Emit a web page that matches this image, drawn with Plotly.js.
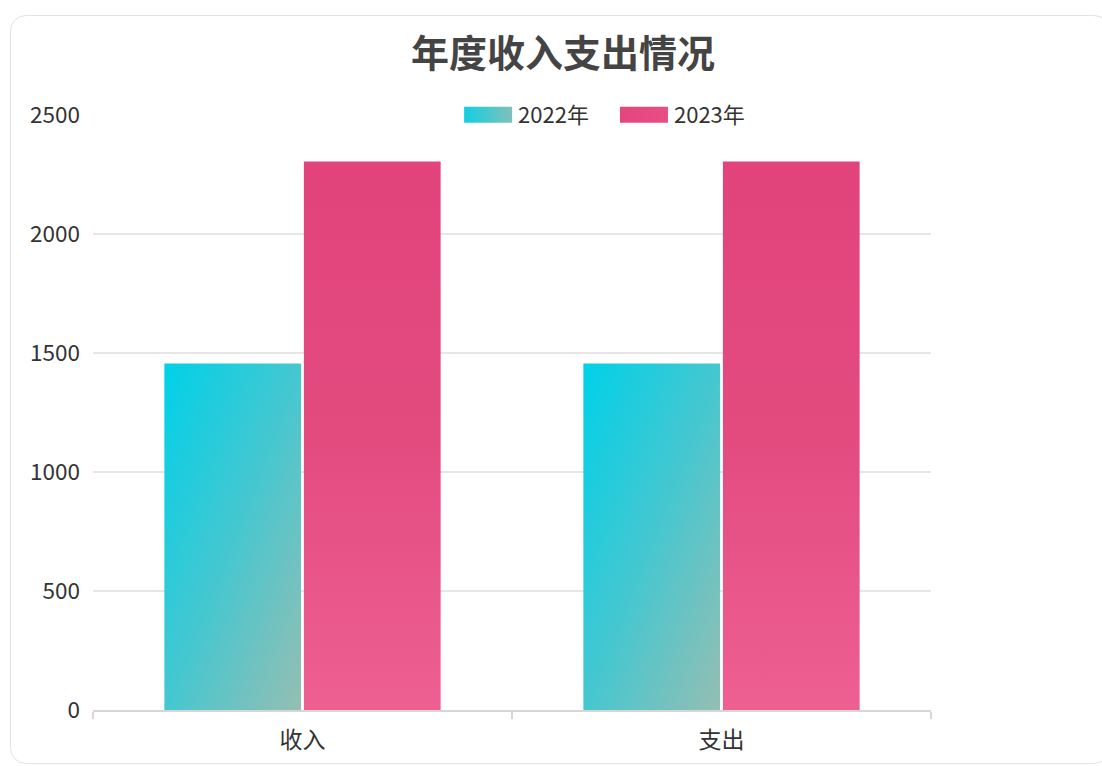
<!DOCTYPE html>
<html>
<head>
<meta charset="utf-8">
<script src="https://cdn.plot.ly/plotly-3.0.1.min.js"></script>
<style>
  html, body { margin: 0; padding: 0; background: #ffffff; width: 1102px; height: 766px; overflow: hidden; }
  #card { position: absolute; left: 10px; top: 15px; width: 1100px; height: 749px; border: 1.5px solid #e2e2e2; border-radius: 16px; box-sizing: border-box; background: #fff; }
  #chart { position: absolute; left: 0; top: 0; width: 1102px; height: 766px; }
</style>
</head>
<body>
<div id="card"></div>
<div id="chart"></div>
<script>
const categories = ['收入', '支出'];
const seriesNames = ['2022年', '2023年'];
const values2022 = [1456, 1456];
const values2023 = [2305, 2305];
const yTickValues = [0, 500, 1000, 1500, 2000, 2500];

const FONT = '"Noto Sans CJK SC", "Noto Sans", sans-serif';

const traces = [
  { type: 'bar', name: seriesNames[0], x: categories, y: values2022, marker: { color: '#3cc7d3' } },
  { type: 'bar', name: seriesNames[1], x: categories, y: values2023, marker: { color: '#e54c82' } }
];

const layout = {
  width: 1102, height: 766,
  paper_bgcolor: 'rgba(0,0,0,0)', plot_bgcolor: 'rgba(0,0,0,0)',
  margin: { l: 93, r: 171, t: 115, b: 56 },
  title: { text: '年度收入支出情况', x: 0.511, xanchor: 'center', y: 0.93, yanchor: 'middle', xref: 'container', yref: 'container',
           font: { family: FONT, size: 38, color: '#444', weight: 700 } },
  barmode: 'group', bargap: 0.334, bargroupgap: 0.02,
  showlegend: true,
  legend: { orientation: 'h', x: 0.598, xanchor: 'center', y: 1.0, yanchor: 'middle', bgcolor: 'rgba(0,0,0,0)',
            font: { family: FONT, size: 22, color: '#333' }, itemwidth: 70, traceorder: 'normal' },
  xaxis: { type: 'category', showline: true, linecolor: '#d6d6d6', linewidth: 1.5, ticks: 'outside', ticklen: 7, tickcolor: '#d6d6d6', tickwidth: 1.5,
           tickson: 'boundaries', showgrid: false, tickfont: { family: FONT, size: 23, color: '#333' }, ticklabelstandoff: 9, fixedrange: true },
  yaxis: { range: [0, 2500], tickvals: yTickValues, showgrid: true, gridcolor: '#e6e6e6', gridwidth: 1.2, zeroline: false, showline: false,
           tickfont: { family: FONT, size: 22.5, color: '#333' }, ticklabelstandoff: 12, fixedrange: true },
  hovermode: false
};

function translateX(el) {
  const t = el.getAttribute && el.getAttribute('transform');
  if (!t) return 0;
  const m = /translate\(\s*([-\d.e]+)/.exec(t);
  return m ? parseFloat(m[1]) : 0;
}

Plotly.newPlot('chart', traces, layout, { displayModeBar: false, staticPlot: true }).then(function (gd) {
  const svg = gd.querySelector('svg.main-svg');
  const ns = 'http://www.w3.org/2000/svg';
  let defs = svg.querySelector('defs');
  if (!defs) { defs = document.createElementNS(ns, 'defs'); svg.insertBefore(defs, svg.firstChild); }
  function addGrad(id, x1, y1, x2, y2, stops) {
    const g = document.createElementNS(ns, 'linearGradient');
    g.setAttribute('id', id);
    g.setAttribute('x1', x1); g.setAttribute('y1', y1); g.setAttribute('x2', x2); g.setAttribute('y2', y2);
    stops.forEach(function (s) {
      const st = document.createElementNS(ns, 'stop');
      st.setAttribute('offset', s[0]); st.setAttribute('stop-color', s[1]);
      g.appendChild(st);
    });
    defs.appendChild(g);
  }
  addGrad('g2022', '0', '0', '1', '1', [['0', '#00d1e8'], ['0.5', '#45c7d0'], ['1', '#95beb2']]);
  addGrad('g2023', '0', '0', '0', '1', [['0', '#e1437a'], ['0.5', '#e34b7f'], ['1', '#ee5f92']]);
  addGrad('l2022', '0', '0', '1', '0', [['0', '#12cfe2'], ['1', '#7fc0ba']]);
  addGrad('l2023', '0', '0', '1', '0', [['0', '#e3467c'], ['1', '#e74f84']]);
  const ids = ['g2022', 'g2023'];
  const lids = ['l2022', 'l2023'];
  gd.querySelectorAll('.barlayer .trace').forEach(function (tr, i) {
    tr.querySelectorAll('path').forEach(function (p) { p.style.fill = 'url(#' + ids[i] + ')'; });
  });
  gd.querySelectorAll('.legend .traces').forEach(function (tr, i) {
    const txt = tr.querySelector('text.legendtext');
    let textX = txt ? parseFloat(txt.getAttribute('x')) || 0 : 80;
    let node = txt ? txt.parentNode : null;
    while (node && node !== tr) { textX += translateX(node); node = node.parentNode; }
    tr.querySelectorAll('.legendpoints path').forEach(function (p) {
      let off = translateX(p);
      let n = p.parentNode;
      while (n && n !== tr) { off += translateX(n); n = n.parentNode; }
      const right = textX - 6 - off;
      const left = right - 48;
      p.setAttribute('d', 'M' + left + ',-8H' + right + 'V8H' + left + 'Z');
      p.style.fill = 'url(#' + lids[i] + ')';
      p.style.stroke = 'none';
    });
  });
});
</script>
</body>
</html>
